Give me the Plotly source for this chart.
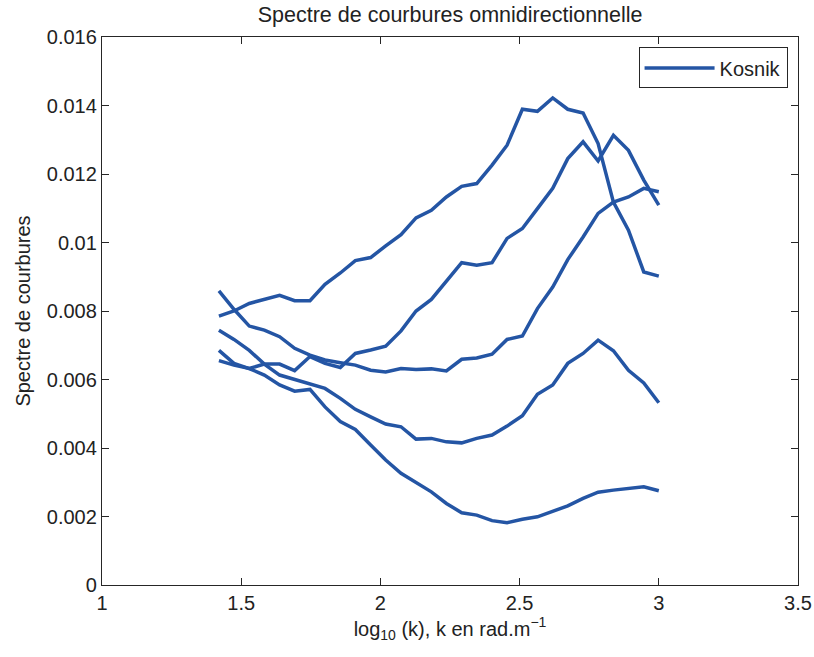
import plotly.graph_objects as go

# log10(k) sample positions (shared by all curves)
log_k = [1.420, 1.474, 1.529, 1.583, 1.638, 1.692, 1.747, 1.801, 1.856, 1.910,
         1.965, 2.019, 2.074, 2.128, 2.183, 2.237, 2.292, 2.346, 2.401, 2.455,
         2.510, 2.564, 2.619, 2.673, 2.728, 2.782, 2.837, 2.891, 2.946, 3.000]

# curvature spectra (x 1e-3)
curve_a = [7.85, 8.00, 8.22, 8.35, 8.46, 8.30, 8.30, 8.78, 9.11, 9.47,
           9.56, 9.90, 10.23, 10.72, 10.94, 11.33, 11.64, 11.72, 12.26, 12.84,
           13.89, 13.83, 14.22, 13.89, 13.78, 12.89, 11.18, 10.36, 9.14, 9.02]
curve_b = [6.55, 6.42, 6.32, 6.45, 6.45, 6.26, 6.67, 6.47, 6.35, 6.76,
           6.86, 6.97, 7.42, 8.00, 8.34, 8.88, 9.41, 9.34, 9.41, 10.12,
           10.41, 10.99, 11.58, 12.45, 12.94, 12.38, 13.13, 12.69, 11.82, 11.09]
curve_c = [8.59, 8.05, 7.56, 7.44, 7.25, 6.91, 6.71, 6.57, 6.49, 6.42,
           6.27, 6.22, 6.32, 6.29, 6.31, 6.25, 6.59, 6.63, 6.74, 7.17,
           7.27, 8.07, 8.70, 9.50, 10.16, 10.85, 11.18, 11.33, 11.58, 11.48]
curve_d = [7.44, 7.17, 6.85, 6.45, 6.13, 6.00, 5.85, 5.74, 5.45, 5.13,
           4.91, 4.70, 4.62, 4.26, 4.28, 4.18, 4.15, 4.28, 4.38, 4.64,
           4.94, 5.57, 5.84, 6.47, 6.76, 7.15, 6.84, 6.27, 5.90, 5.32]
curve_e = [6.85, 6.47, 6.32, 6.13, 5.84, 5.66, 5.71, 5.20, 4.77, 4.54,
           4.09, 3.65, 3.26, 2.99, 2.72, 2.38, 2.11, 2.04, 1.88, 1.82,
           1.92, 1.99, 2.14, 2.31, 2.53, 2.71, 2.77, 2.82, 2.87, 2.75]

series = [curve_a, curve_b, curve_c, curve_d, curve_e]
legend_name = "Kosnik"

x_tick_vals = [1, 1.5, 2, 2.5, 3, 3.5]
x_tick_text = ["1", "1.5", "2", "2.5", "3", "3.5"]
y_tick_vals = [0, 0.002, 0.004, 0.006, 0.008, 0.010, 0.012, 0.014, 0.016]
y_tick_text = ["0", "0.002", "0.004", "0.006", "0.008", "0.01", "0.012", "0.014", "0.016"]

LINE_COLOR = "#2455A4"
AXIS_COLOR = "#262626"
TEXT_COLOR = "#222222"
FONT = "Liberation Sans, Arial, Helvetica, sans-serif"

fig = go.Figure()
for i, s in enumerate(series):
    fig.add_trace(go.Scatter(
        x=log_k, y=[v * 1e-3 for v in s], mode="lines",
        line=dict(color=LINE_COLOR, width=3.5),
        name=legend_name, showlegend=(i == 0),
    ))

axis_common = dict(
    showline=True, linecolor=AXIS_COLOR, linewidth=1.3, mirror="ticks",
    ticks="inside", ticklen=7, tickcolor=AXIS_COLOR, tickwidth=1,
    showgrid=False, zeroline=False, automargin=False,
    tickfont=dict(family=FONT, size=20, color=TEXT_COLOR),
)

fig.update_layout(
    width=814, height=657,
    margin=dict(l=102, r=16, t=37, b=72),
    paper_bgcolor="white", plot_bgcolor="white",
    title=dict(text="Spectre de courbures omnidirectionnelle",
               x=0.553, xanchor="center", y=0.978, yanchor="middle",
               font=dict(family=FONT, size=21.5, color=TEXT_COLOR)),
    xaxis=dict(range=[1, 3.5], tickvals=x_tick_vals, ticktext=x_tick_text,
               title=dict(text="log<sub>10</sub> (k), k en rad.m<sup>\u22121</sup>",
                          font=dict(family=FONT, size=20, color=TEXT_COLOR), standoff=8),
               **axis_common),
    yaxis=dict(range=[0, 0.016], tickvals=y_tick_vals, ticktext=y_tick_text,
               title=dict(text="Spectre de courbures",
                          font=dict(family=FONT, size=20, color=TEXT_COLOR), standoff=10),
               **axis_common),
    legend=dict(x=0.985, y=0.981, xanchor="right", yanchor="top",
                bordercolor=AXIS_COLOR, borderwidth=1, bgcolor="white",
                font=dict(family=FONT, size=20, color=TEXT_COLOR),
                itemwidth=70),
    font=dict(family=FONT),
)

fig.write_html("out.html")
